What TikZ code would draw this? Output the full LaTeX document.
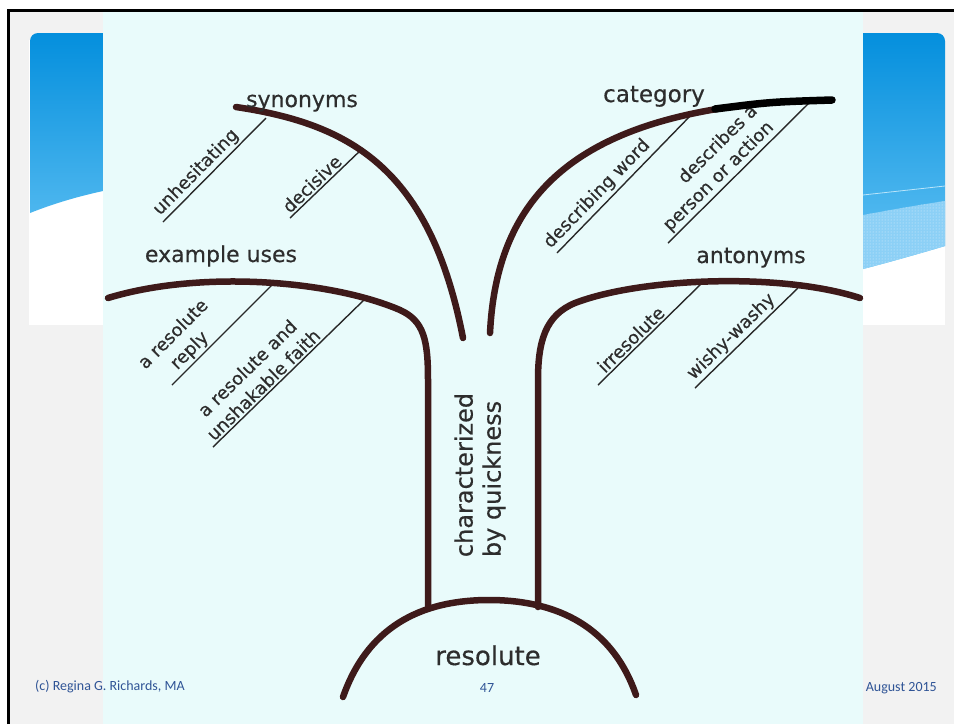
\documentclass[tikz,border=0pt]{standalone}
\usepackage{fontspec}
\setmainfont{DejaVu Sans}[FakeBold=0.4]
\newfontfamily\footfont{Carlito}
\usetikzlibrary{patterns}
\definecolor{slidegray}{RGB}{242,242,242}
\definecolor{hdrtop}{RGB}{4,143,221}
\definecolor{hdrbot}{RGB}{100,195,244}
\definecolor{bandblue}{RGB}{140,208,246}
\definecolor{panel}{RGB}{233,251,251}
\definecolor{bark}{RGB}{62,26,26}
\definecolor{ink}{RGB}{45,45,45}
\definecolor{twigcol}{RGB}{40,40,40}
\definecolor{footblue}{RGB}{47,84,150}
\begin{document}
\begin{tikzpicture}[x=1pt,y=-1pt,
  branch/.style={draw=bark, line width=6.5pt, line cap=round},
  twig/.style={draw=twigcol, line width=1.4pt},
  biglab/.style={font=\fontsize{22}{25}\selectfont, text=ink, inner sep=0pt},
  lab/.style={font=\fontsize{18}{23}\selectfont, text=ink, inner sep=1pt},
  foot/.style={font=\footfont\fontsize{14}{16}\selectfont, text=footblue, inner sep=0pt}]
\useasboundingbox (0,0) rectangle (954,724);

% slide background and frame
\fill[white] (0,0) rectangle (954,724);
\fill[slidegray] (8,10) rectangle (954,724);
\draw[black, line width=2.5pt] (8.5,724) -- (8.5,10.5) -- (954,10.5);

% title box with blue wave header
\fill[white] (29,40) rectangle (945,325);
\begin{scope}
  \clip[rounded corners=8pt] (30,33) rectangle (945,400);
  \clip (30,33) -- (30,213) .. controls (55,203) and (80,196) .. (103,191)
        -- (863,269) .. controls (890,262) and (918,254) .. (945,246) -- (945,33) -- cycle;
  \shade[top color=hdrtop, bottom color=hdrbot] (30,33) rectangle (945,270);
  \fill[bandblue] (863,215) .. controls (890,210) and (918,205) .. (945,201) -- (945,280) -- (863,280) -- cycle;
  \fill[pattern=dots, pattern color=white!70!bandblue] (863,215) .. controls (890,210) and (918,205) .. (945,201) -- (945,280) -- (863,280) -- cycle;
  \draw[white!55!hdrbot, line width=0.8pt] (863,195) .. controls (890,192) and (918,189) .. (945,186);
\end{scope}

% picture panel
\fill[panel] (103,12) rectangle (863,724);

% label lines
\coordinate (u1) at (163,222); \coordinate (u2) at (266,118);
\coordinate (d1) at (290,218); \coordinate (d2) at (363,148);
\coordinate (w1) at (557,253); \coordinate (w2) at (693,113);
\coordinate (p1) at (668,243); \coordinate (p2) at (808,104);
\coordinate (r1) at (172,385); \coordinate (r2) at (272,285);
\coordinate (f1) at (213,447); \coordinate (f2) at (367,297);
\coordinate (i1) at (598,385); \coordinate (i2) at (702,283);
\coordinate (y1) at (695,388); \coordinate (y2) at (798,288);

\draw[twig] (u1) -- (u2) node[lab, pos=.40, sloped, above=1pt] (tu) {unhesitating};
\draw[twig] (d1) -- (d2) node[lab, pos=.39, sloped, above=1pt] (td) {decisive};
\draw[twig] (w1) -- (w2) node[lab, pos=.36, sloped, above=2pt] (tw) {describing word};
\draw[twig] (p1) -- (p2) node[lab, pos=.42, sloped, above=1pt, align=right] (tp) {describes a\\person or action};
\draw[twig] (r1) -- (r2) node[lab, pos=.26, sloped, above=1pt, align=center] (tr) {a resolute\\reply};
\draw[twig] (f1) -- (f2) node[lab, pos=.37, sloped, above=1pt, align=center] (tf) {a resolute and\\unshakable faith};
\draw[twig] (i1) -- (i2) node[lab, pos=.38, sloped, above=1pt] (ti) {irresolute};
\draw[twig] (y1) -- (y2) node[lab, pos=.43, sloped, above=1pt] (ty) {wishy-washy};

% branches
\draw[branch] (236,107) .. controls (350,124) and (430,168) .. (463,338);
\draw[branch] (490,333) .. controls (496,210) and (560,135) .. (717,109);
\draw[black, line width=7.5pt, line cap=round] (715,109) .. controls (770,102) .. (832,100);
\draw[branch, line join=round] (108,298) .. controls (200,270) and (330,280) .. (400,310)
      .. controls (424,321) and (428,340) .. (428,380) -- (428,607);
\draw[branch, line join=round] (860,298) .. controls (780,272) and (640,278) .. (575,303)
      .. controls (546,315) and (538,340) .. (538,380) -- (538,607);
% root mound
\draw[branch] (343,697) .. controls (370,620) and (430,600) .. (489,600)
      .. controls (548,600) and (610,620) .. (636,695);

% main labels
\node[biglab, anchor=base] (syn) at (302,107) {synonyms};
\node[biglab, anchor=base, font=\fontsize{23}{25}\selectfont] (cat) at (654,102) {category};
\node[biglab, anchor=base] (ex) at (221,262) {example uses};
\node[biglab, anchor=base] (ant) at (751,263) {antonyms};
\node[biglab, anchor=base, font=\fontsize{26}{28}\selectfont] (root) at (488,665) {resolute};
\node[biglab, rotate=90, align=left, font=\fontsize{24}{28}\selectfont] (trunk) at (480,475) {characterized\\by quickness};

% footer
\node[foot, anchor=base west] (fl) at (35,690) {(c) Regina G. Richards, MA};
\node[foot, anchor=base] (fc) at (487,692) {47};
\node[foot, anchor=base east] (fr) at (937,691) {August 2015};
\end{tikzpicture}
\end{document}
